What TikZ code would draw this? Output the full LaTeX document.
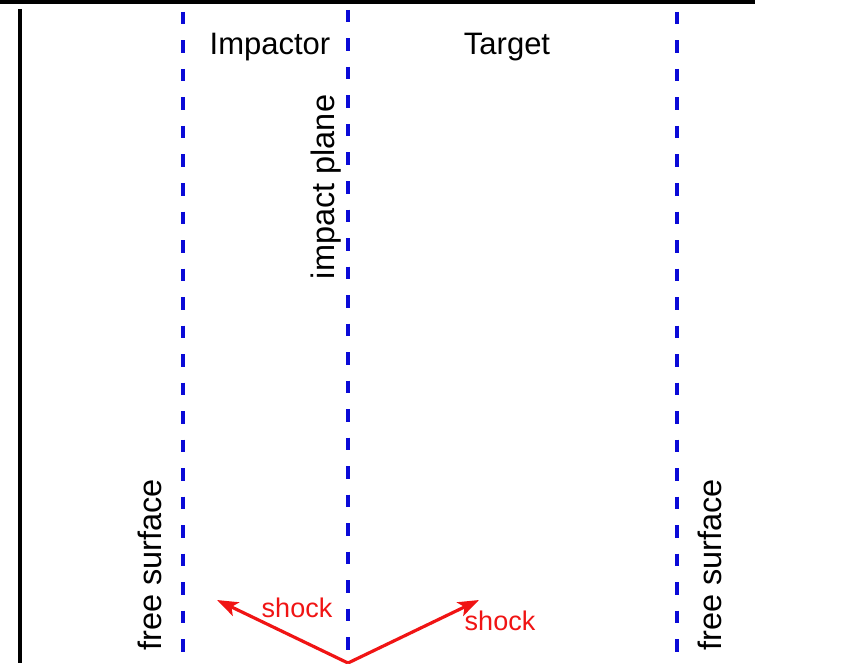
\documentclass[tikz,border=0pt]{standalone}
\usepackage{fontspec}
\setmainfont{Liberation Sans}
\usetikzlibrary{arrows.meta}
\definecolor{dblue}{RGB}{10,10,215}
\definecolor{shockred}{RGB}{240,20,20}
\tikzset{
  frame/.style={line width=3.4pt, black},
  interface/.style={line width=3.2pt, dblue, dash pattern=on 12.5pt off 16pt},
  lbl/.style={inner sep=0pt, anchor=base, font=\fontsize{31}{34}\selectfont},
  vlbl/.style={inner sep=0pt, anchor=base, rotate=90, font=\fontsize{32.5}{36}\selectfont},
  shocklbl/.style={inner sep=0pt, anchor=base, text=shockred, font=\fontsize{27}{30}\selectfont},
  shockarrow/.style={line width=3.2pt, shockred, -{Stealth[length=21pt,width=15pt,inset=5pt]}}
}
\begin{document}
\begin{tikzpicture}[x=1pt,y=-1pt]
\useasboundingbox (0,0) rectangle (842,663);
% frame
\coordinate (tl) at (0,2);
\coordinate (tr) at (755,2);
\coordinate (lt) at (20,9);
\coordinate (lb) at (20,663);
\draw[frame] (tl) -- (tr);
\draw[frame] (lt) -- (lb);
% interfaces
\coordinate (fsLt) at (183,12);
\coordinate (fsLb) at (183,663);
\coordinate (ipt) at (348,10);
\coordinate (ipb) at (348,663);
\coordinate (fsRt) at (677,12);
\coordinate (fsRb) at (677,663);
\draw[interface] (fsLt) -- (fsLb);
\draw[interface] (ipt) -- (ipb);
\draw[interface] (fsRt) -- (fsRb);
% labels
\node[lbl] (imp) at (270,55) {Impactor};
\node[lbl] (tgt) at (507,55) {Target};
\node[vlbl] (plane) at (334,187) {impact plane};
\node[vlbl] (fsl) at (161,565) {free surface};
\node[vlbl] (fsr) at (721,565) {free surface};
% shocks
\coordinate (O) at (348,663);
\coordinate (tipL) at (217,600);
\coordinate (tipR) at (479,600);
\draw[shockarrow] (O) -- (tipL);
\draw[shockarrow] (O) -- (tipR);
\node[shocklbl] (shL) at (297,617) {shock};
\node[shocklbl] (shR) at (500,630) {shock};
\end{tikzpicture}
\end{document}
